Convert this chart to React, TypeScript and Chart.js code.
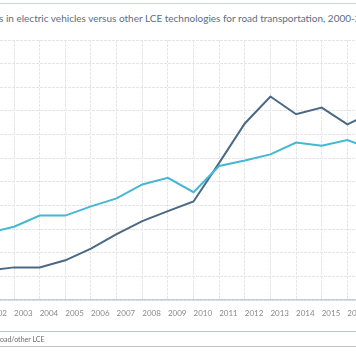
import React, { useEffect, useRef } from "react";
import { Chart, registerables } from "chart.js";

Chart.register(...registerables);

const years = ["2002", "2003", "2004", "2005", "2006", "2007", "2008", "2009", "2010", "2011", "2012", "2013", "2014", "2015", "2016", "2017"];
const otherLce = [28.4, 31.0, 35.7, 35.7, 39.6, 43.0, 48.9, 51.7, 45.6, 56.7, 59.0, 61.6, 66.6, 65.3, 67.7, 63.7];
const electricVehicles = [12.5, 13.8, 13.8, 16.8, 21.7, 27.9, 33.4, 37.6, 41.7, 58.0, 74.7, 86.1, 78.6, 81.4, 74.3, 79.5];
const titleHidden = "Patent application";
const titleVisible = "s in electric vehicles versus other LCE technologies for road transportation, 2000-2017";
const legendHidden = "Ratio EV r";
const legendVisible = "oad/other LCE";

export default function App() {
  const ref = useRef<HTMLCanvasElement | null>(null);

  useEffect(() => {
    if (!ref.current) return;
    const chart = new Chart(ref.current, {
      type: "line",
      data: {
        labels: years,
        datasets: [
          {
            label: "Other LCE technologies (road)",
            data: otherLce,
            borderColor: "#45b7d3",
            borderWidth: 2,
            pointRadius: 0,
            tension: 0,
          },
          {
            label: "Electric vehicles",
            data: electricVehicles,
            borderColor: "#4a6983",
            borderWidth: 2,
            pointRadius: 0,
            tension: 0,
          },
        ],
      },
      options: {
        responsive: false,
        animation: false,
        layout: { padding: { left: 28.4, right: 30, top: 40, bottom: 44 } },
        plugins: { legend: { display: false }, tooltip: { enabled: false }, title: { display: false } },
        scales: {
          x: {
            type: "category",
            offset: false,
            afterFit: (s: any) => { s.height = 20; },
            grid: { color: "#e6e6e6", lineWidth: 1, drawTicks: false },
            border: { display: true, color: "#c4cdd6", width: 1.5, dash: [3, 1] },
            ticks: {
              align: "start",
              padding: 9,
              color: "#8a8a8a",
              maxRotation: 0,
              autoSkip: false,
              font: { family: "Lato", size: 8 },
            },
          },
          y: {
            min: 0,
            max: 110,
            afterFit: (s: any) => { s.width = 0; },
            ticks: { display: false, stepSize: 10 },
            grid: { color: "#e6e6e6", lineWidth: 1, drawTicks: false },
            border: { display: false, dash: [3, 1] },
          },
        },
      },
    });
    return () => chart.destroy();
  }, []);

  return (
    <div style={{ position: "fixed", left: 0, top: 0, width: 356, height: 364, overflow: "hidden", background: "#fff" }}>
      <div style={{ position: "absolute", left: 0, right: 0, top: 3, height: 1, background: "#c9d7e4" }} />
      <div
        style={{
          position: "absolute",
          left: -1,
          top: 12,
          whiteSpace: "nowrap",
          fontFamily: "Lato",
          fontSize: 10,
          color: "#5d6e7e",
          lineHeight: "12px",
        }}
      >
        <span style={{ position: "absolute", right: "100%" }}>{titleHidden}</span>
        {titleVisible}
      </div>
      <canvas ref={ref} width={443} height={364} style={{ position: "absolute", left: -40, top: 0, width: 443, height: 364 }} />
      <div
        style={{
          position: "absolute",
          left: -2,
          right: -2,
          top: 331,
          height: 14,
          borderTop: "1px solid #bcc4cc",
          borderBottom: "1px solid #bcc4cc",
        }}
      />
      <div
        style={{
          position: "absolute",
          left: 0,
          top: 333,
          whiteSpace: "nowrap",
          fontFamily: "Lato",
          fontSize: 7,
          color: "#6a6a6a",
          lineHeight: "12px",
        }}
      >
        <span style={{ position: "absolute", right: "100%" }}>{legendHidden}</span>
        {legendVisible}
      </div>
    </div>
  );
}
